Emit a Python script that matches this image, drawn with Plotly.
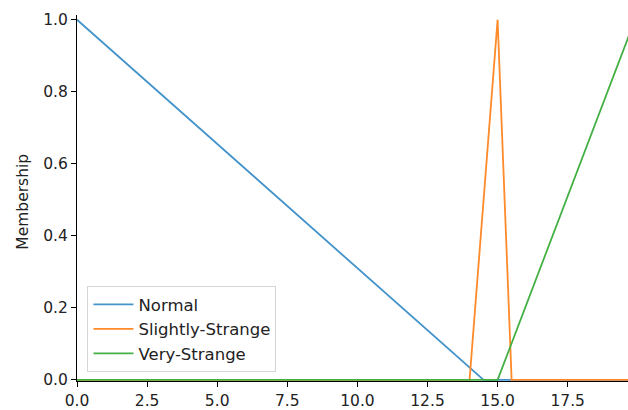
import plotly.graph_objects as go

# Data
normal_x = [0.0, 14.5, 19.9]
normal_y = [1.0, 0.0, 0.0]
slight_x = [0.0, 14.0, 15.0, 15.5, 19.9]
slight_y = [0.0, 0.0, 1.0, 0.0, 0.0]
very_x = [0.0, 15.0, 19.9]
very_y = [0.0, 0.0, 1.0]

series = [
    ("Normal", normal_x, normal_y, "#4393ca"),
    ("Slightly-Strange", slight_x, slight_y, "#ff8a2a"),
    ("Very-Strange", very_x, very_y, "#44b044"),
]

x_ticks = [0.0, 2.5, 5.0, 7.5, 10.0, 12.5, 15.0, 17.5]
y_ticks = [0.0, 0.2, 0.4, 0.6, 0.8, 1.0]

FONT = "DejaVu Sans"

fig = go.Figure()
for name, xs, ys, col in series:
    fig.add_trace(go.Scatter(x=xs, y=ys, mode="lines", name=name,
                             line=dict(color=col, width=1.8)))

fig.update_layout(
    width=628, height=410,
    margin=dict(l=77, r=0, t=15, b=29),
    paper_bgcolor="white", plot_bgcolor="white",
    font=dict(family=FONT, size=16, color="#222222"),
    showlegend=True,
    legend=dict(x=0.019, y=0.024, xanchor="left", yanchor="bottom",
                bgcolor="rgba(255,255,255,0.8)", bordercolor="#d6d6d6",
                borderwidth=1, itemwidth=40, tracegroupgap=0,
                font=dict(size=16.5, color="#222222")),
    xaxis=dict(range=[0, 19.65], tickvals=x_ticks,
               ticktext=[f"{v:.1f}" for v in x_ticks],
               showgrid=False, zeroline=False, showline=True,
               linecolor="black", linewidth=1.2, ticks="outside",
               ticklen=5, tickcolor="black", tickfont=dict(size=15.5)),
    yaxis=dict(range=[-0.003, 1.013], tickvals=y_ticks,
               ticktext=[f"{v:.1f}" for v in y_ticks],
               showgrid=False, zeroline=False, showline=True,
               linecolor="black", linewidth=1.2, ticks="outside",
               ticklen=5, tickcolor="black", tickfont=dict(size=15.5)),
    annotations=[dict(text="Membership", textangle=-90, xref="paper", yref="paper",
                      x=0, y=0.49, xanchor="center", yanchor="middle",
                      xshift=-54, showarrow=False,
                      font=dict(size=15.5, color="#222222"))],
)

fig.write_html("out.html", config={"displayModeBar": False},
               post_script="document.body.style.margin='0';")
